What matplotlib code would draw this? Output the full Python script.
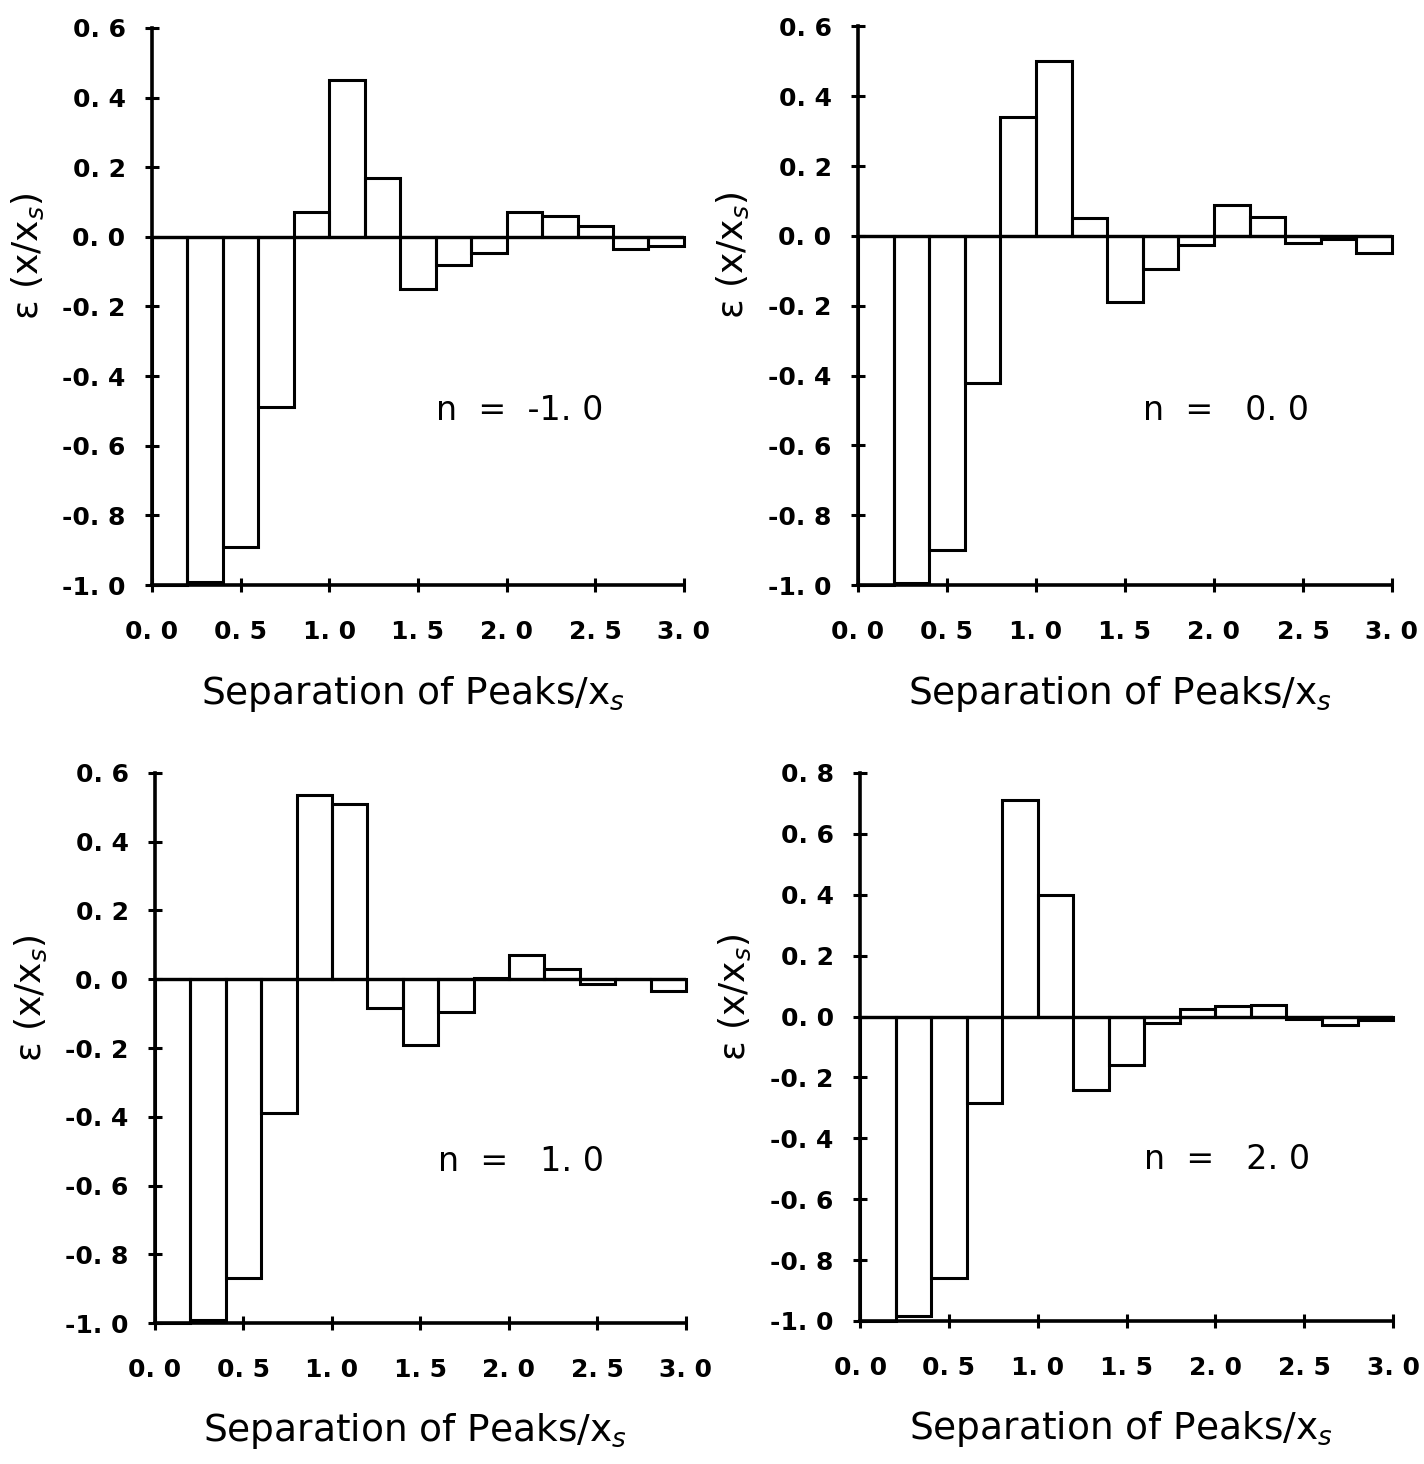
import numpy as np
import matplotlib
matplotlib.use("Agg")
import matplotlib.pyplot as plt

# bin edges of the separation axis (width 0.2)
bin_edges = np.round(np.arange(0.0, 3.01, 0.2), 2)

# epsilon values for each bin
eps_n_m1 = [-1.00, -0.99, -0.89, -0.49, 0.07, 0.45, 0.17, -0.15,
            -0.08, -0.045, 0.07, 0.06, 0.03, -0.035, -0.025]
eps_n_0 = [-1.00, -0.995, -0.90, -0.42, 0.34, 0.50, 0.05, -0.19,
           -0.095, -0.025, 0.09, 0.055, -0.02, -0.008, -0.05]
eps_n_1 = [-1.00, -0.99, -0.87, -0.39, 0.535, 0.51, -0.085, -0.19,
           -0.095, 0.004, 0.072, 0.03, -0.015, 0.002, -0.034]
eps_n_2 = [-1.00, -0.985, -0.86, -0.285, 0.71, 0.40, -0.24, -0.16,
           -0.02, 0.025, 0.033, 0.037, -0.008, -0.027, -0.01]

panel_labels = ["n  =  -1. 0", "n  =   0. 0", "n  =   1. 0", "n  =   2. 0"]
panel_data = [eps_n_m1, eps_n_0, eps_n_1, eps_n_2]
panel_ymax = [0.6, 0.6, 0.6, 0.8]
label_y = [-0.5, -0.5, -0.53, -0.47]

x_ticks = [0.0, 0.5, 1.0, 1.5, 2.0, 2.5, 3.0]

# axes rectangles in figure fractions [left, bottom, width, height]
positions = [
    [0.1067, 0.6004, 0.3736, 0.3805],
    [0.6025, 0.6004, 0.3750, 0.3815],
    [0.1088, 0.0963, 0.3729, 0.3757],
    [0.6040, 0.0977, 0.3743, 0.3743],
]


def fmt(v):
    if abs(v) < 1e-9:
        v = 0.0
    return f"{v:.1f}".replace(".", ". ")


fig = plt.figure(figsize=(14.24, 14.64), dpi=100)

for pos, vals, label, ymax, ly in zip(positions, panel_data, panel_labels,
                                      panel_ymax, label_y):
    ax = fig.add_axes(pos)
    ax.bar(bin_edges[:-1], vals, width=0.2, align="edge", fill=False,
           edgecolor="black", linewidth=2.2, clip_on=False)
    ax.axhline(0.0, color="black", linewidth=2.4)

    ax.set_xlim(0.0, 3.0)
    ax.set_ylim(-1.0, ymax)
    y_ticks = np.round(np.arange(-1.0, ymax + 0.01, 0.2), 1)
    ax.set_xticks(x_ticks)
    ax.set_xticklabels([fmt(v) for v in x_ticks], fontweight="bold")
    ax.set_yticks(y_ticks)
    ax.set_yticklabels([fmt(v) for v in y_ticks], fontweight="bold")

    for side in ["top", "right"]:
        ax.spines[side].set_visible(False)
    for side in ["left", "bottom"]:
        ax.spines[side].set_linewidth(2.6)

    ax.tick_params(axis="both", direction="inout", length=10, width=2.2,
                   labelsize=18)
    ax.tick_params(axis="x", pad=20)
    ax.tick_params(axis="y", pad=14)

    ax.set_xlabel("Separation of Peaks/x$_s$", fontsize=27)
    ax.xaxis.set_label_coords(0.49, -0.16)
    ax.set_ylabel("ε (x/x$_s$)", fontsize=26)
    ax.yaxis.set_label_coords(-0.2, 0.59)

    ax.text(1.6, ly, label, fontsize=24, ha="left", va="center")

fig.savefig("out.png", dpi=100)
